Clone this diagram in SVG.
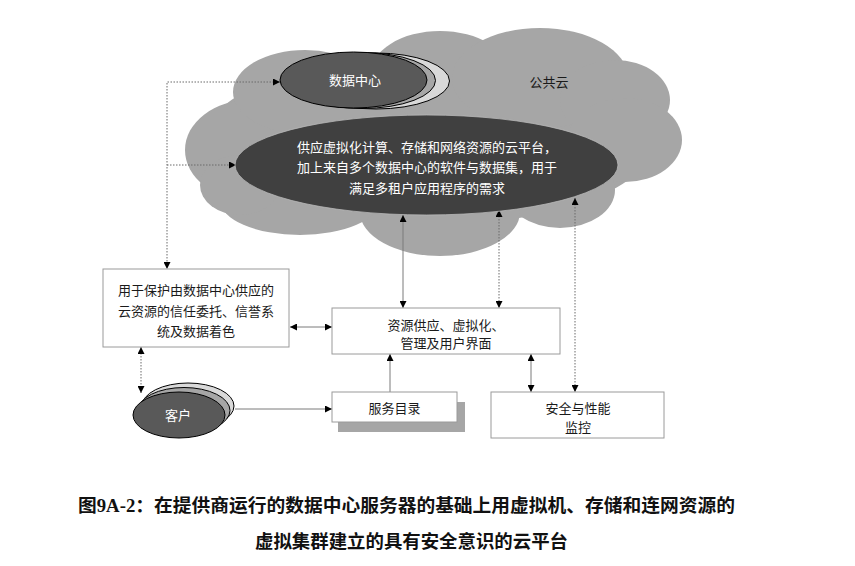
<svg xmlns="http://www.w3.org/2000/svg" width="855" height="566" viewBox="0 0 855 566">
<style>
text{font-family:"Noto Sans CJK SC","Liberation Sans",sans-serif;font-size:13px;text-anchor:middle}
.w{fill:#ffffff}
.k{fill:#1a1a1a}
.cloud{fill:#a6a6a6}
.box{fill:#ffffff;stroke:#9a9a9a;stroke-width:1}
.solid{fill:none;stroke:#7a7a7a;stroke-width:1}
.dot{fill:none;stroke:#6a6a6a;stroke-width:1;stroke-dasharray:1.5 1.5}
.lay{stroke:#000;stroke-width:1}
.cap{font-weight:bold;font-size:18px;fill:#111}
</style>
<defs>
<marker id="ah" viewBox="0 0 8 8" refX="8" refY="4" markerWidth="7" markerHeight="7" markerUnits="userSpaceOnUse" orient="auto-start-reverse">
<path d="M0,0 L8,4 L0,8 z" fill="#000"/>
</marker>
</defs>
<rect width="855" height="566" fill="#ffffff"/>
<g id="cloud">
<ellipse class="cloud" cx="430" cy="140" rx="225" ry="85"/>
<ellipse class="cloud" cx="250" cy="150" rx="65" ry="50"/>
<ellipse class="cloud" cx="305" cy="92" rx="72" ry="42"/>
<ellipse class="cloud" cx="440" cy="75" rx="70" ry="44"/>
<ellipse class="cloud" cx="540" cy="78" rx="88" ry="50"/>
<ellipse class="cloud" cx="615" cy="100" rx="55" ry="40"/>
<ellipse class="cloud" cx="625" cy="140" rx="57" ry="42"/>
<ellipse class="cloud" cx="560" cy="190" rx="55" ry="38"/>
<ellipse class="cloud" cx="440" cy="212" rx="80" ry="44"/>
<ellipse class="cloud" cx="300" cy="200" rx="80" ry="35"/>
<ellipse class="cloud" cx="240" cy="185" rx="40" ry="30"/>
<text class="k" x="549" y="86.5">公共云</text>
</g>
<g id="connectors">
<path class="dot" d="M280,82 L167,82 L167,269" marker-start="url(#ah)" marker-end="url(#ah)"/>
<path class="dot" d="M167,165 L236,165" marker-end="url(#ah)"/>
<path class="solid" d="M290,327 L332,327" marker-start="url(#ah)" marker-end="url(#ah)"/>
<path class="dot" d="M141,347 L141,393" marker-start="url(#ah)" marker-end="url(#ah)"/>
<path class="solid" d="M235,409 L332,409" marker-end="url(#ah)"/>
<path class="solid" d="M390,392 L390,354" marker-end="url(#ah)"/>
<path class="solid" d="M403,215 L403,308" marker-start="url(#ah)" marker-end="url(#ah)"/>
<path class="dot" d="M499,210 L499,308" marker-start="url(#ah)" marker-end="url(#ah)"/>
<path class="solid" d="M531,354 L531,392" marker-start="url(#ah)" marker-end="url(#ah)"/>
<path class="dot" d="M575,198 L575,392" marker-start="url(#ah)" marker-end="url(#ah)"/>
</g>
<g id="datacenter">
<ellipse class="lay" cx="376" cy="81" rx="73.5" ry="28" fill="#d9d9d9" stroke-width="1.5"/>
<ellipse class="lay" cx="362" cy="80.5" rx="73.5" ry="28" fill="#a6a6a6"/>
<ellipse class="lay" cx="353.5" cy="80" rx="73.5" ry="28" fill="#595959"/>
<text class="w" x="355" y="84.5">数据中心</text>
</g>
<g id="platform">
<ellipse cx="426.5" cy="165" rx="191.5" ry="50" fill="#404040" stroke="#b8b8b8" stroke-width="0.8"/>
<text class="w" x="427" y="151.5">供应虚拟化计算、存储和网络资源的云平台，</text>
<text class="w" x="427" y="172">加上来自多个数据中心的软件与数据集，用于</text>
<text class="w" x="427" y="193">满足多租户应用程序的需求</text>
</g>
<g id="trust">
<rect class="box" x="103" y="269" width="186" height="78"/>
<text class="k" x="196" y="294.5">用于保护由数据中心供应的</text>
<text class="k" x="196" y="315.5">云资源的信任委托、信誉系</text>
<text class="k" x="196" y="335.5">统及数据着色</text>
</g>
<g id="resource">
<rect class="box" x="332" y="308" width="228" height="46"/>
<text class="k" x="446" y="329.5">资源供应、虚拟化、</text>
<text class="k" x="446" y="347.5">管理及用户界面</text>
</g>
<g id="catalog">
<rect x="338" y="402" width="127" height="30" fill="#a6a6a6"/>
<rect class="box" x="332" y="392" width="125" height="30"/>
<text class="k" x="394.5" y="412.5">服务目录</text>
</g>
<g id="monitor">
<rect class="box" x="491" y="392" width="173" height="46"/>
<text class="k" x="578" y="412.5">安全与性能</text>
<text class="k" x="578" y="431.5">监控</text>
</g>
<g id="client">
<ellipse class="lay" cx="188" cy="406" rx="46" ry="23" fill="#d9d9d9" stroke-width="1.3"/>
<ellipse class="lay" cx="184" cy="410.5" rx="46" ry="23" fill="#a6a6a6"/>
<ellipse class="lay" cx="179" cy="415" rx="46" ry="23" fill="#595959"/>
<text class="w" x="178" y="419.5">客户</text>
</g>
<g id="caption">
<text class="cap" x="406.5" y="511.5" textLength="657" lengthAdjust="spacingAndGlyphs">图<tspan font-family="Liberation Serif">9A-2</tspan>：在提供商运行的数据中心服务器的基础上用虚拟机、存储和连网资源的</text>
<text class="cap" x="411.5" y="547.5" textLength="313" lengthAdjust="spacingAndGlyphs">虚拟集群建立的具有安全意识的云平台</text>
</g>
</svg>
